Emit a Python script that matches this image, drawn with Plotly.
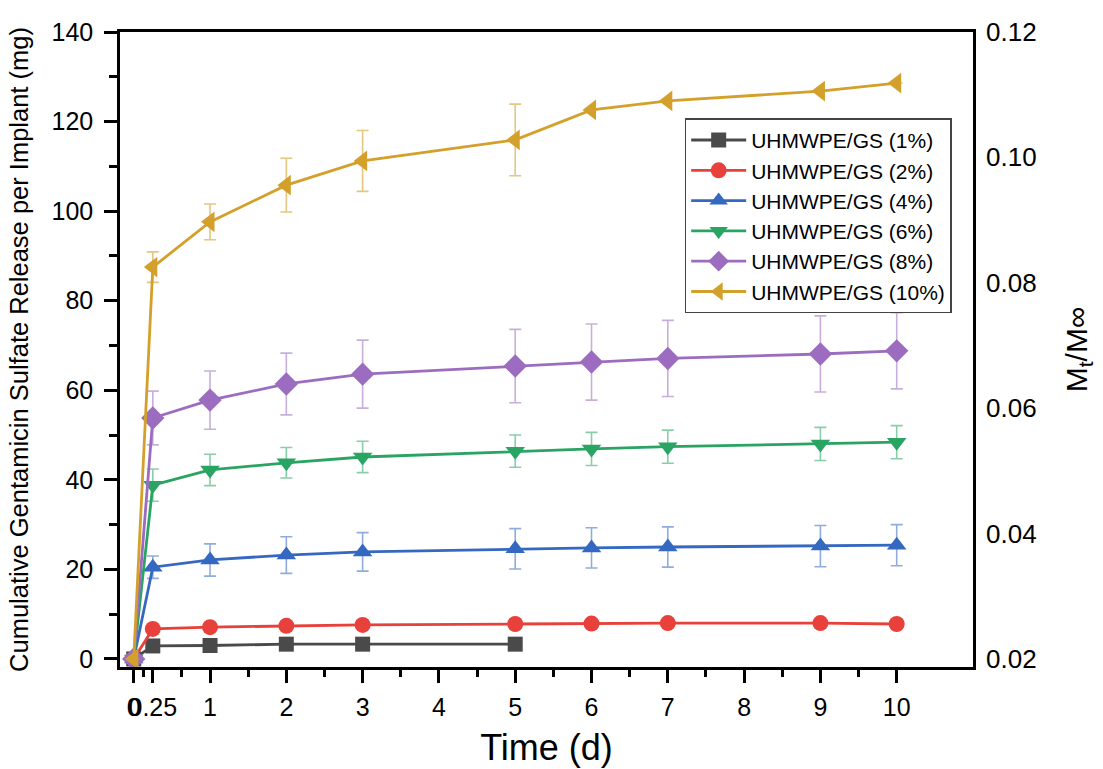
import plotly.graph_objects as go

time_days = [0, 0.25, 1, 2, 3, 5, 6, 7, 9, 10]
time_1pct = [0, 0.25, 1, 2, 3, 5]

series_names = ["UHMWPE/GS (1%)", "UHMWPE/GS (2%)", "UHMWPE/GS (4%)",
                "UHMWPE/GS (6%)", "UHMWPE/GS (8%)", "UHMWPE/GS (10%)"]

gs_1pct = [0, 2.9, 3.0, 3.3, 3.3, 3.3]
gs_1pct_err = [0, 0.2, 0.2, 0.2, 0.2, 0.2]
gs_2pct = [0, 6.7, 7.1, 7.4, 7.6, 7.8, 7.9, 8.0, 8.0, 7.8]
gs_2pct_err = [0, 0.3, 0.3, 0.3, 0.3, 0.3, 0.3, 0.3, 0.3, 0.3]
gs_4pct = [0, 20.5, 22.1, 23.2, 23.9, 24.6, 24.8, 25.0, 25.2, 25.4]
gs_4pct_err = [0, 2.5, 3.6, 4.1, 4.3, 4.5, 4.5, 4.5, 4.6, 4.6]
gs_6pct = [0, 38.8, 42.2, 43.8, 45.1, 46.4, 46.9, 47.4, 48.0, 48.4]
gs_6pct_err = [0, 3.6, 3.5, 3.4, 3.5, 3.6, 3.7, 3.7, 3.7, 3.7]
gs_8pct = [0, 53.8, 57.8, 61.4, 63.6, 65.4, 66.3, 67.1, 68.1, 68.8]
gs_8pct_err = [0, 6.0, 6.5, 6.9, 7.6, 8.2, 8.5, 8.5, 8.5, 8.5]
gs_10pct = [0, 87.5, 97.6, 105.8, 111.2, 115.9, 122.6, 124.6, 126.8, 128.6]
gs_10pct_err = [0, 3.4, 4.0, 6.0, 6.8, 8.0, 0, 0, 0, 0]

colors = ["#4a4a4a", "#e8403a", "#3568c0", "#2aa462", "#9b6cbf", "#d4a02c"]
err_colors = ["rgba(74,74,74,0.6)", "rgba(232,64,58,0.6)", "rgba(53,104,192,0.55)",
              "rgba(42,164,98,0.55)", "rgba(155,108,191,0.55)", "rgba(212,160,44,0.6)"]
symbols = ["square", "circle", "triangle-up", "triangle-down", "diamond", "triangle-left"]
marker_sizes = [15, 16, 17, 17, 18, 18]

x_tick_vals = [0, 0.25, 1, 2, 3, 4, 5, 6, 7, 8, 9, 10]
x_tick_text = ["0", "0.25", "1", "2", "3", "4", "5", "6", "7", "8", "9", "10"]
x_minor_vals = [0.125, 0.625, 1.5, 2.5, 3.5, 4.5, 5.5, 6.5, 7.5, 8.5, 9.5]
y_tick_vals = [0, 20, 40, 60, 80, 100, 120, 140]
y2_tick_vals = [0.02, 0.04, 0.06, 0.08, 0.10, 0.12]
y2_tick_text = ["0.02", "0.04", "0.06", "0.08", "0.10", "0.12"]

FONT = "Liberation Sans, Arial, sans-serif"

data = [
    (time_1pct, gs_1pct, gs_1pct_err),
    (time_days, gs_2pct, gs_2pct_err),
    (time_days, gs_4pct, gs_4pct_err),
    (time_days, gs_6pct, gs_6pct_err),
    (time_days, gs_8pct, gs_8pct_err),
    (time_days, gs_10pct, gs_10pct_err),
]

fig = go.Figure()
for i, (xs, ys, es) in enumerate(data):
    fig.add_trace(go.Scatter(
        x=xs, y=ys, name=series_names[i], mode="lines+markers",
        line=dict(color=colors[i], width=2.8),
        marker=dict(symbol=symbols[i], size=marker_sizes[i], color=colors[i]),
        error_y=dict(type="data", array=es, visible=True, color=err_colors[i],
                     thickness=1.6, width=6),
    ))

y_lo, y_hi = -1.8, 140
y2_lo = 0.02 + y_lo * 0.1 / 140
y2_hi = 0.12

# invisible trace to activate right axis
fig.add_trace(go.Scatter(x=[None], y=[None], yaxis="y2", showlegend=False,
                         hoverinfo="skip"))

fig.update_layout(
    width=1103, height=769,
    paper_bgcolor="white", plot_bgcolor="white",
    margin=dict(l=120, r=130, t=32, b=102),
    font=dict(family=FONT, color="black"),
    xaxis=dict(
        range=[-0.18, 11], tickmode="array", tickvals=x_tick_vals, ticktext=x_tick_text,
        tickangle=0, ticks="outside", ticklen=13, tickwidth=2.5, tickcolor="black",
        ticklabelstandoff=3, automargin=False,
        minor=dict(tickmode="array", tickvals=x_minor_vals, ticks="outside",
                   ticklen=7, tickwidth=2.5, tickcolor="black"),
        showline=True, linecolor="black", linewidth=2.5, mirror=True,
        showgrid=False, zeroline=False,
        tickfont=dict(size=25, family=FONT),
        title=dict(text="Time (d)", font=dict(size=36, family=FONT), standoff=16),
    ),
    yaxis=dict(
        range=[y_lo, y_hi], tickmode="array", tickvals=y_tick_vals,
        ticks="outside", ticklen=13, tickwidth=2.5, tickcolor="black",
        ticklabelstandoff=6, automargin=False,
        minor=dict(dtick=10, tick0=0, ticks="outside", ticklen=8, tickwidth=2.5,
                   tickcolor="black", showgrid=False),
        showline=True, linecolor="black", linewidth=2.5, mirror=True,
        showgrid=False, zeroline=False,
        tickfont=dict(size=25, family=FONT),
        title=dict(text="Cumulative Gentamicin Sulfate Release per Implant (mg)",
                   font=dict(size=25.5, family=FONT), standoff=16),
    ),
    yaxis2=dict(
        overlaying="y", side="right", range=[y2_lo, y2_hi],
        tickmode="array", tickvals=y2_tick_vals, ticktext=y2_tick_text,
        ticks="", showline=False, showgrid=False, zeroline=False,
        ticklabelstandoff=12, automargin=False,
        tickfont=dict(size=26, family=FONT),
        title=dict(text="M<sub>t</sub>/M∞", font=dict(size=30, family=FONT), standoff=30),
    ),
    legend=dict(
        x=0.975, y=0.864, xanchor="right", yanchor="top",
        bgcolor="white", bordercolor="#444444", borderwidth=1.5,
        font=dict(size=21, family=FONT), itemwidth=55,
        tracegroupgap=0, traceorder="normal",
    ),
    showlegend=True,
)

fig.write_html("out.html")
